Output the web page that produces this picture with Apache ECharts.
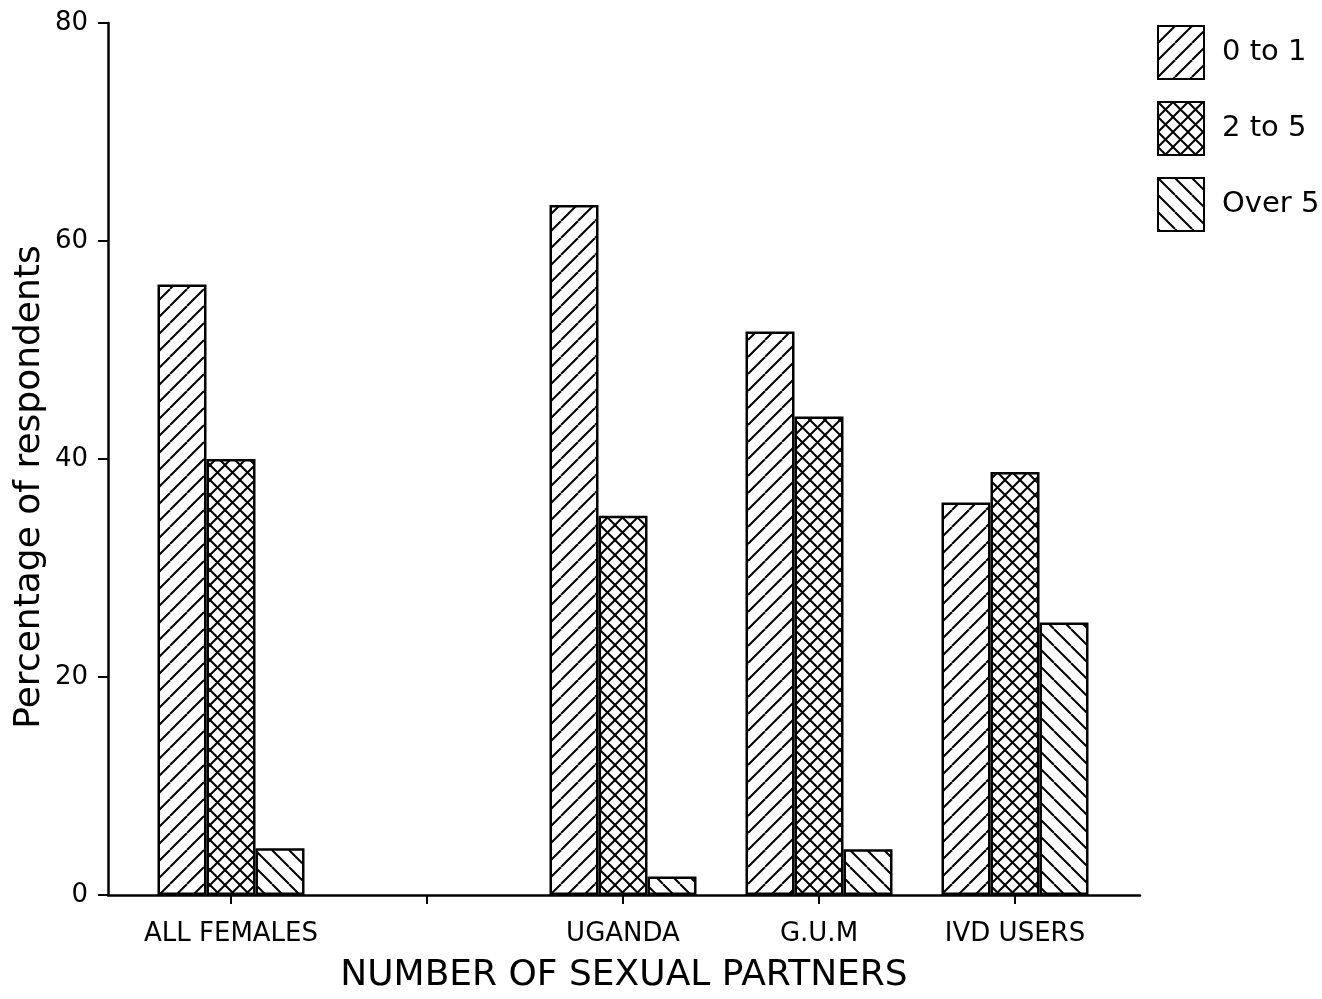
<!DOCTYPE html>
<html>
<head>
<meta charset="utf-8">
<script src="https://cdn.jsdelivr.net/npm/echarts/dist/echarts.min.js"></script>
<style>
html,body{margin:0;padding:0;background:#fff;}
#chart{width:1322px;height:999px;}
</style>
</head>
<body>
<div id="chart"></div>
<script>
// ---- data ----
const categories = ['ALL FEMALES', '', 'UGANDA', 'G.U.M', 'IVD USERS'];
const seriesNames = ['0 to 1', '2 to 5', 'Over 5'];
const zeroToOne = [56.0, null, 63.3, 51.7, 36.0];
const twoToFive = [40.0, null, 34.8, 43.9, 38.8];
const overFive  = [4.3, null, 1.7, 4.2, 25.0];
const yTicks = [0, 20, 40, 60, 80];
const yTitle = 'Percentage of respondents';
const xTitle = 'NUMBER OF SEXUAL PARTNERS';

// ---- hatch patterns ----
function makePattern(kind, s) {
  const c = document.createElement('canvas');
  c.width = s; c.height = s;
  const g = c.getContext('2d');
  g.fillStyle = '#fff';
  g.fillRect(0, 0, s, s);
  g.strokeStyle = '#000';
  g.lineWidth = 2;
  function fwd() {
    for (const o of [-s, 0, s]) {
      g.beginPath(); g.moveTo(o, s); g.lineTo(o + s, 0); g.stroke();
    }
  }
  function back() {
    for (const o of [-s, 0, s]) {
      g.beginPath(); g.moveTo(o, 0); g.lineTo(o + s, s); g.stroke();
    }
  }
  if (kind === 'fwd') fwd();
  else if (kind === 'back') back();
  else { fwd(); back(); }
  return { image: c, repeat: 'repeat' };
}
const patterns = [makePattern('fwd', 17), makePattern('cross', 15), makePattern('back', 17)];
const seriesData = [zeroToOne, twoToFive, overFive];

const FONT = 'DejaVu Sans';
const chart = echarts.init(document.getElementById('chart'), null, { renderer: 'canvas' });

const option = {
  backgroundColor: '#fff',
  animation: false,
  textStyle: { fontFamily: FONT, color: '#000' },
  grid: [
    { left: 108, right: 182, top: 23, bottom: 104 },
    { left: 133, width: 980, top: 23, bottom: 104 }
  ],
  xAxis: [
    {
      gridIndex: 0, type: 'value', min: 0, max: 1,
      axisLine: { show: true, lineStyle: { color: '#000', width: 2.5 } },
      axisTick: { show: false }, axisLabel: { show: false }, splitLine: { show: false }
    },
    {
      gridIndex: 1, type: 'category', data: categories,
      axisLine: { show: false },
      axisTick: { show: true, alignWithLabel: true, length: 9, lineStyle: { color: '#000', width: 2 } },
      axisLabel: { color: '#000', fontFamily: FONT, fontSize: 26, margin: 26, interval: 0 },
      splitLine: { show: false }
    }
  ],
  yAxis: [
    {
      gridIndex: 0, type: 'value', min: 0, max: 80, interval: 20,
      axisLine: { show: true, lineStyle: { color: '#000', width: 2.5 } },
      axisTick: { show: true, length: 10, lineStyle: { color: '#000', width: 2 } },
      axisLabel: { color: '#000', fontFamily: FONT, fontSize: 26, margin: 20,
        formatter: v => (yTicks.indexOf(v) >= 0 ? String(v) : '') },
      splitLine: { show: false }
    },
    {
      gridIndex: 1, type: 'value', min: 0, max: 80, show: false, splitLine: { show: false }
    }
  ],
  legend: {
    orient: 'vertical', left: 1157, top: 25,
    itemWidth: 46, itemHeight: 53, itemGap: 21, padding: 0,
    icon: 'rect',
    data: seriesNames,
    textStyle: { fontFamily: FONT, fontSize: 29, color: '#000', padding: [0, 0, 0, 13] }
  },
  graphic: [
    {
      type: 'text', x: 30, y: 487, rotation: Math.PI / 2,
      style: { text: yTitle, font: '36px "DejaVu Sans"', fill: '#000', textAlign: 'center', textVerticalAlign: 'middle' }
    },
    {
      type: 'text', x: 624, y: 976,
      style: { text: xTitle, font: '36px "DejaVu Sans"', fill: '#000', textAlign: 'center', textVerticalAlign: 'middle' }
    }
  ],
  series: seriesNames.map((name, i) => ({
    name: name,
    type: 'bar',
    xAxisIndex: 1, yAxisIndex: 1,
    data: seriesData[i],
    barWidth: 49,
    barGap: '0%',
    itemStyle: { color: patterns[i], borderColor: '#000', borderWidth: 2.5 }
  }))
};
chart.setOption(option);
</script>
</body>
</html>
